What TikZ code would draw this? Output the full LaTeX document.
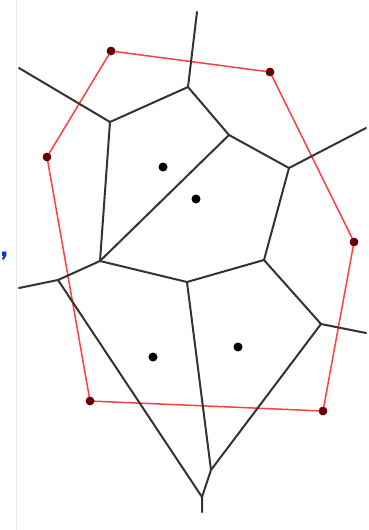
\documentclass[tikz,border=0pt]{standalone}
\begin{document}
\begin{tikzpicture}[x=1pt,y=-1pt,
  edge/.style={draw=black!80,line width=2pt,line cap=round,line join=round},
  hull/.style={draw=red!75!white,line width=1.5pt,line join=round},
  site/.style={circle,fill=black,inner sep=0pt,minimum size=9pt},
  hullpt/.style={circle,fill=red!40!black,inner sep=0pt,minimum size=8.5pt}]
\useasboundingbox (0,0) rectangle (368,530);
\fill[white] (0,0) rectangle (368,530);
\draw[black!8,line width=1.2pt] (16.5,0) -- (16.5,530);
\node[text=blue!70!cyan!80!black,font=\sffamily\bfseries\fontsize{34}{34}\selectfont,inner sep=0pt,anchor=base west] (comma) at (-1,256) {,};
% Voronoi vertices
\coordinate (V1) at (188,87);
\coordinate (V2) at (110,122);
\coordinate (V3) at (229,135);
\coordinate (V4) at (289,168);
\coordinate (V6) at (100,261);
\coordinate (V7) at (264,260);
\coordinate (V8) at (187,282);
\coordinate (V9) at (58,280);
\coordinate (V10) at (202,497);
\coordinate (V11) at (211,470);
\coordinate (V12) at (321,324);
\coordinate (E1) at (197,12);
\coordinate (E2) at (19,68);
\coordinate (E3) at (366,128);
\coordinate (E4) at (19,288);
\coordinate (E5) at (366,333);
\coordinate (E6) at (202,512);
% hull points
\node[hullpt] (P1) at (111,51) {};
\node[hullpt] (P2) at (270,72) {};
\node[hullpt] (P3) at (354,242) {};
\node[hullpt] (P4) at (323,411) {};
\node[hullpt] (P5) at (90,401) {};
\node[hullpt] (P6) at (47,157) {};
\draw[hull] (P1.center) -- (P2.center) -- (P3.center) -- (P4.center) -- (P5.center) -- (P6.center) -- cycle;
% Voronoi edges
\draw[edge] (E1) -- (V1) -- (V2) -- (E2);
\draw[edge] (V1) -- (V3) -- (V4) -- (E3);
\draw[edge] (V3) -- (V6);
\draw[edge] (V2) -- (V6);
\draw[edge] (V4) -- (V7) -- (V8) -- (V6) -- (V9) -- (E4);
\draw[edge] (V7) -- (V12) -- (E5);
\draw[edge] (V8) -- (V11);
\draw[edge] (V12) -- (V11) -- (V10) -- (E6);
\draw[edge] (V9) -- (V10);
% hull points on top
\foreach \p in {P1,P2,P3,P4,P5,P6} \node[hullpt] at (\p) {};
% sites
\node[site] (S1) at (163,167) {};
\node[site] (S2) at (196,199) {};
\node[site] (S3) at (153,357) {};
\node[site] (S4) at (238,347) {};
\end{tikzpicture}
\end{document}
